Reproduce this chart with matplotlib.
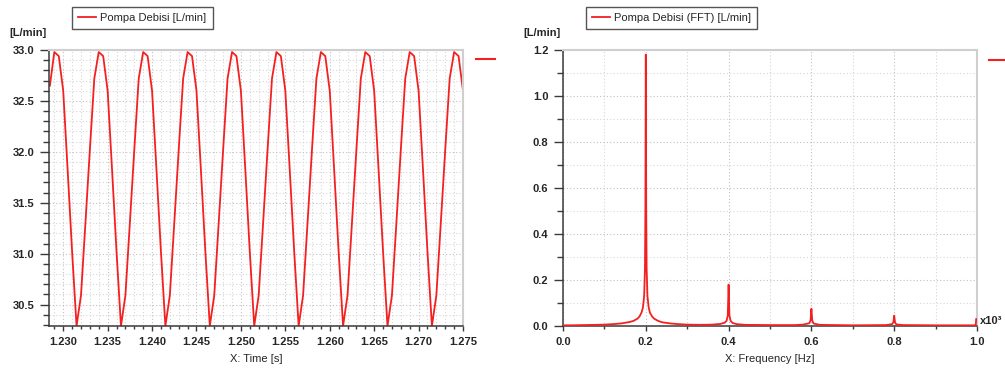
import numpy as np
import matplotlib.pyplot as plt
from matplotlib.ticker import MultipleLocator, FormatStrFormatter
from matplotlib.lines import Line2D

plt.rcParams['font.family'] = ['Liberation Sans', 'DejaVu Sans']

# time signal: pump flow [L/min], sampled every 0.0005 s starting at 1.2285 s
t_start = 1.2285
t_step = 0.0005
flow = [32.65,
        32.98, 32.94, 32.60, 31.82, 31.02, 30.29, 30.59, 31.30, 32.02, 32.72,
        32.98, 32.94, 32.60, 31.82, 31.02, 30.29, 30.59, 31.30, 32.02, 32.72,
        32.98, 32.94, 32.60, 31.82, 31.02, 30.29, 30.59, 31.30, 32.02, 32.72,
        32.98, 32.94, 32.60, 31.82, 31.02, 30.29, 30.59, 31.30, 32.02, 32.72,
        32.98, 32.94, 32.60, 31.82, 31.02, 30.29, 30.59, 31.30, 32.02, 32.72,
        32.98, 32.94, 32.60, 31.82, 31.02, 30.29, 30.59, 31.30, 32.02, 32.72,
        32.98, 32.94, 32.60, 31.82, 31.02, 30.29, 30.59, 31.30, 32.02, 32.72,
        32.98, 32.94, 32.60, 31.82, 31.02, 30.29, 30.59, 31.30, 32.02, 32.72,
        32.98, 32.94, 32.60, 31.82, 31.02, 30.29, 30.59, 31.30, 32.02, 32.72,
        32.98, 32.94, 32.60]
time = t_start + t_step * np.arange(len(flow))

# spectrum (frequency in x10^3 Hz)
freq = [0.0, 0.02, 0.05, 0.08, 0.1, 0.12, 0.14, 0.16, 0.17, 0.18, 0.185, 0.19,
        0.193, 0.196, 0.198, 0.199, 0.2, 0.201, 0.202, 0.204, 0.207, 0.21,
        0.215, 0.22, 0.23, 0.24, 0.26, 0.28, 0.3, 0.33, 0.36, 0.38, 0.39,
        0.395, 0.398, 0.4, 0.402, 0.405, 0.41, 0.42, 0.44, 0.5, 0.56, 0.58,
        0.595, 0.598, 0.6, 0.602, 0.605, 0.62, 0.7, 0.78, 0.795, 0.798, 0.8,
        0.802, 0.805, 0.82, 0.9, 0.995, 0.997, 0.998]
amp = [0.003, 0.003, 0.004, 0.005, 0.006, 0.008, 0.011, 0.017, 0.022, 0.032,
       0.042, 0.06, 0.08, 0.13, 0.25, 0.5, 1.18, 0.5, 0.25, 0.13, 0.08, 0.058,
       0.042, 0.032, 0.022, 0.016, 0.011, 0.008, 0.006, 0.005, 0.006, 0.009,
       0.014, 0.022, 0.045, 0.18, 0.045, 0.022, 0.013, 0.008, 0.005, 0.004,
       0.004, 0.006, 0.012, 0.025, 0.075, 0.025, 0.011, 0.005, 0.003, 0.004,
       0.008, 0.016, 0.045, 0.016, 0.007, 0.004, 0.003, 0.003, 0.004, 0.03]

red = '#f42020'
txt = '#262626'
W, H = 1005, 374

fig = plt.figure(figsize=(W / 100, H / 100), dpi=100)
ax1 = fig.add_axes([49 / W, 1 - 326 / H, 414 / W, 276 / H])
ax2 = fig.add_axes([563 / W, 1 - 326 / H, 414 / W, 276 / H])


def style(ax):
    ax.set_axisbelow(True)
    for s in ['left', 'bottom']:
        ax.spines[s].set_color('#3a3a3a')
        ax.spines[s].set_linewidth(1.1)
    for s in ['top', 'right']:
        ax.spines[s].set_color('#cfcfcf')
        ax.spines[s].set_linewidth(1.5)
    ax.grid(True, which='major', linestyle=(0, (1, 2)), color='#c0c0c0', linewidth=0.8)
    ax.grid(True, which='minor', linestyle=(0, (1, 2)), color='#d6d6d6', linewidth=0.8)
    ax.tick_params(axis='y', which='major', length=6.5, width=1, color='#3a3a3a', pad=4)
    ax.tick_params(axis='y', which='minor', length=4, width=1, color='#3a3a3a')
    ax.tick_params(axis='x', which='major', length=3.8, width=1, color='#3a3a3a', pad=4)
    ax.tick_params(axis='x', which='minor', length=2.4, width=1, color='#3a3a3a')
    ax.tick_params(which='both', labelsize=8, labelcolor=txt)
    for lab in ax.get_xticklabels() + ax.get_yticklabels():
        lab.set_fontweight('bold')


ax1.plot(time, flow, color=red, lw=1.3, label='Pompa Debisi [L/min]')
ax1.set_xlim(1.2284, 1.275)
ax1.set_ylim(30.29, 33.0)
ax1.xaxis.set_major_locator(MultipleLocator(0.005))
ax1.xaxis.set_minor_locator(MultipleLocator(0.001))
ax1.yaxis.set_major_locator(MultipleLocator(0.5))
ax1.yaxis.set_minor_locator(MultipleLocator(0.1))
ax1.xaxis.set_major_formatter(FormatStrFormatter('%.3f'))
ax1.yaxis.set_major_formatter(FormatStrFormatter('%.1f'))
ax1.set_xlabel('X: Time [s]', fontsize=8, color=txt, labelpad=5)
style(ax1)

ax2.plot(freq, amp, color=red, lw=1.3, label='Pompa Debisi (FFT) [L/min]',
         zorder=3)
ax2.set_xlim(0, 1.0)
ax2.set_ylim(0, 1.2)
ax2.xaxis.set_major_locator(MultipleLocator(0.2))
ax2.xaxis.set_minor_locator(MultipleLocator(0.1))
ax2.yaxis.set_major_locator(MultipleLocator(0.2))
ax2.yaxis.set_minor_locator(MultipleLocator(0.1))
ax2.xaxis.set_major_formatter(FormatStrFormatter('%.1f'))
ax2.yaxis.set_major_formatter(FormatStrFormatter('%.1f'))
ax2.set_xlabel('X: Frequency [Hz]', fontsize=8, color=txt, labelpad=5)
style(ax2)

for ax, x0 in [(ax1, 72), (ax2, 586)]:
    leg = ax.legend(loc='lower left', bbox_to_anchor=(x0 / W, 1 - 29 / H),
                    bbox_transform=fig.transFigure, borderaxespad=0,
                    fontsize=8, frameon=True, fancybox=False, handlelength=1.6,
                    handletextpad=0.4, borderpad=0.55)
    leg.get_frame().set_edgecolor('#2a2a2a')
    leg.get_frame().set_linewidth(1.0)
    for t in leg.get_texts():
        t.set_color(txt)

fig.text(28 / W, 1 - 33 / H, '[L/min]', fontsize=8, fontweight='bold', color=txt,
         ha='center', va='center')
fig.text(542 / W, 1 - 33 / H, '[L/min]', fontsize=8, fontweight='bold', color=txt,
         ha='center', va='center')
fig.text(980 / W, 1 - 321 / H, 'x10³', fontsize=8, fontweight='bold', color=txt,
         ha='left', va='center')

fig.add_artist(Line2D([476 / W, 495 / W], [1 - 59 / H, 1 - 59 / H], color=red, lw=1.5))
fig.add_artist(Line2D([989 / W, 1.0], [1 - 60 / H, 1 - 60 / H], color=red, lw=1.5))

fig.savefig('out.png', dpi=100)
